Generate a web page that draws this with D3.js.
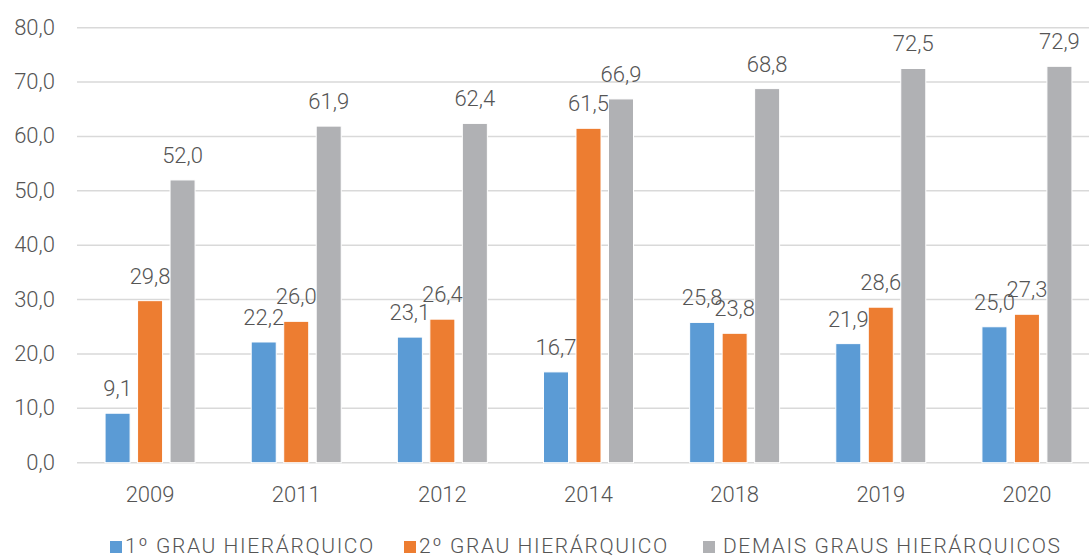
<!DOCTYPE html>
<html>
<head>
<meta charset="utf-8">
<script src="https://cdn.jsdelivr.net/npm/d3@7"></script>
<style>
  html, body { margin: 0; padding: 0; background: #fff; }
  svg { display: block; }
  text { font-family: Roboto, "Noto Sans", sans-serif; font-weight: 300; fill: #555; }
</style>
</head>
<body>
<svg id="chart" width="1089" height="557"></svg>
<script>
// Years on the category axis
const years = ["2009", "2011", "2012", "2014", "2018", "2019", "2020"];

// Series names and values (%)
const seriesNames = ["1º GRAU HIERÁRQUICO", "2º GRAU HIERÁRQUICO", "DEMAIS GRAUS HIERÁRQUICOS"];
const grau1 = [9.1, 22.2, 23.1, 16.7, 25.8, 21.9, 25.0];
const grau2 = [29.8, 26.0, 26.4, 61.5, 23.8, 28.6, 27.3];
const demais = [52.0, 61.9, 62.4, 66.9, 68.8, 72.5, 72.9];

// Y-axis ticks
const yTicks = [0, 10, 20, 30, 40, 50, 60, 70, 80];

const colors = ["#5B9BD5", "#ED7D31", "#B0B1B4"];
const seriesValues = [grau1, grau2, demais];

const svg = d3.select("#chart");
const plotLeft = 77, plotRight = 1100, plotTop = 27.7, plotBottom = 462.7;

const fmt = v => d3.format(".1f")(v).replace(".", ",");

const y = d3.scaleLinear().domain([0, 80]).range([plotBottom, plotTop]);
const x = d3.scaleBand().domain(years).range([plotLeft, plotRight])
  .paddingInner(0.333).paddingOuter(0.1665);
const x1 = d3.scaleBand().domain(d3.range(3)).range([0, x.bandwidth()])
  .paddingInner(0.23).paddingOuter(0.115);

// Gridlines
svg.append("g")
  .selectAll("line")
  .data(yTicks)
  .join("line")
  .attr("x1", plotLeft).attr("x2", 1089)
  .attr("y1", d => y(d)).attr("y2", d => y(d))
  .attr("stroke", "#d9d9d9")
  .attr("stroke-width", 1.5);

// Y-axis labels
svg.append("g")
  .selectAll("text")
  .data(yTicks)
  .join("text")
  .attr("x", 55)
  .attr("y", d => y(d) + 7)
  .attr("text-anchor", "end")
  .attr("font-size", 22)
  .text(d => fmt(d));

// Bars
const groups = svg.append("g")
  .selectAll("g")
  .data(years)
  .join("g")
  .attr("transform", d => `translate(${x(d)},0)`);

groups.selectAll("rect")
  .data((d, i) => seriesValues.map((vals, s) => ({ s, v: vals[i] })))
  .join("rect")
  .attr("x", d => x1(d.s))
  .attr("width", x1.bandwidth())
  .attr("y", d => y(d.v))
  .attr("height", d => y(0) - y(d.v))
  .attr("fill", d => colors[d.s])
  .attr("stroke", "#fff")
  .attr("stroke-width", 1);

// Value labels
groups.selectAll("text.val")
  .data((d, i) => seriesValues.map((vals, s) => ({ s, v: vals[i] })))
  .join("text")
  .attr("class", "val")
  .attr("x", d => x1(d.s) + x1.bandwidth() / 2)
  .attr("y", d => y(d.v) - 17)
  .attr("text-anchor", "middle")
  .attr("font-size", 22)
  .text(d => fmt(d.v));

// X-axis labels
svg.append("g")
  .selectAll("text")
  .data(years)
  .join("text")
  .attr("x", d => x(d) + x.bandwidth() / 2)
  .attr("y", 502)
  .attr("text-anchor", "middle")
  .attr("font-size", 22)
  .text(d => d);

// Legend
const legendX = [110, 404, 703];
const legend = svg.append("g")
  .selectAll("g")
  .data(seriesNames)
  .join("g")
  .attr("transform", (d, i) => `translate(${legendX[i]},0)`);

legend.append("rect")
  .attr("x", 0).attr("y", 541)
  .attr("width", 12).attr("height", 12)
  .attr("fill", (d, i) => colors[i]);

legend.append("text")
  .attr("x", (d, i) => i === 2 ? 20 : 15)
  .attr("y", 553)
  .attr("font-size", 21)
  .attr("letter-spacing", 1.6)
  .text(d => d);
</script>
</body>
</html>
